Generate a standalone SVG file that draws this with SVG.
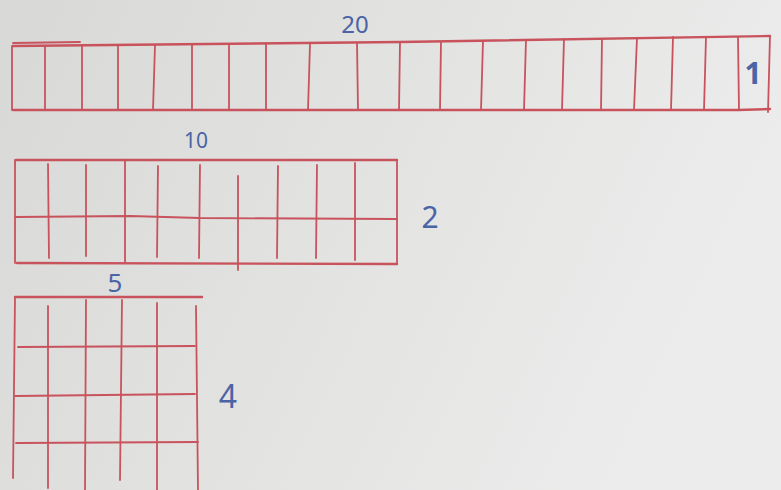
<svg xmlns="http://www.w3.org/2000/svg" width="781" height="490" viewBox="0 0 781 490">
<defs>
<linearGradient id="paper" x1="0" y1="0" x2="1" y2="0.3">
<stop offset="0" stop-color="#d8d8d6"/>
<stop offset="0.6" stop-color="#e4e4e3"/>
<stop offset="1" stop-color="#ececec"/>
</linearGradient>
</defs>
<style>
.g{stroke:#c8535c;stroke-width:1.8;fill:none;stroke-linecap:round}
.b{stroke:#c8535c;stroke-width:2.4;fill:none;stroke-linecap:round}
.t{font-family:"Noto Sans","DejaVu Sans",sans-serif;fill:#4a64a6;text-anchor:middle}
</style>
<rect width="781" height="490" fill="url(#paper)"/>
<g id="grid20">
<path class="b" d="M13 46 L400 42 L770 36"/>
<path class="g" d="M13 43 L80 42"/>
<path class="b" d="M13 110 L738 110 L770 109"/>
<path class="g" d="M12 46 L12 110 M45 46 L45 110 M82 46 L82 110 M118 45 L118 110 M155 45 L153 110 M192 45 L192 110 M229 45 L229 110 M266 44 L266 110 M310 44 L308 110 M357 43 L358 110 M400 42 L399 110 M441 42 L440 110 M483 41 L481 110 M526 40 L524 110 M564 39 L562 110 M602 39 L601 110 M637 38 L634 110 M673 37 L671 110 M706 37 L704 110 M738 37 L739 110 M770 36 L768 112"/>
<text class="t" x="753" y="84" font-size="30" font-weight="bold">1</text>
<text class="t" x="355" y="33" font-size="24">20</text>
</g>
<g id="grid10">
<path class="b" d="M16 160 L397 160"/>
<path class="b" d="M17 263 L397 264"/>
<path class="g" d="M15 217 L130 216 L200 218 L397 219"/>
<path class="g" d="M15 160 L15 263 M48 164 L49 258 M86 165 L86 256 M125 160 L125 262 M158 166 L157 257 M200 165 L199 258 M238 176 L238 270 M278 166 L277 258 M317 165 L316 258 M355 163 L355 260 M397 160 L397 263"/>
<text class="t" x="196" y="148" font-size="21">10</text>
<text class="t" x="430" y="228" font-size="30">2</text>
</g>
<g id="grid5">
<path class="b" d="M15 297 L202 297"/>
<path class="g" d="M18 347 L195 346 M15 396 L195 394 M16 443 L198 442"/>
<path class="g" d="M15 298 L13 478 M48 306 L48 488 M86 300 L85 490 M122 300 L120 480 M157 303 L157 490 M196 306 L198 490"/>
<text class="t" x="115" y="292" font-size="26">5</text>
<text class="t" x="228" y="408" font-size="32">4</text>
</g>
</svg>
